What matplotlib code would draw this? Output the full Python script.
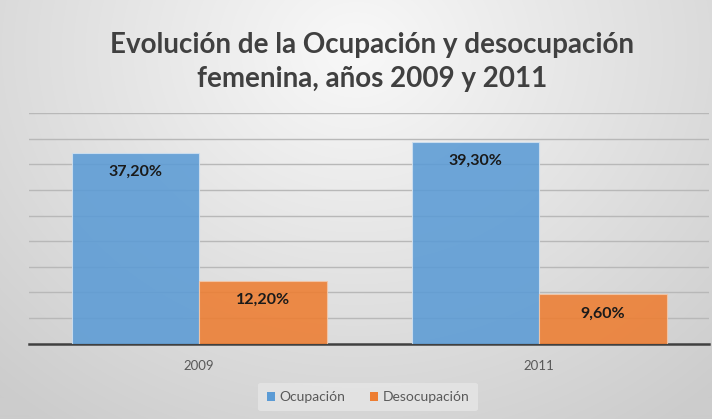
import numpy as np
import matplotlib
matplotlib.use("Agg")
import matplotlib.pyplot as plt
from matplotlib.patches import Patch

years = ["2009", "2011"]
ocupacion = [37.2, 39.3]
desocupacion = [12.2, 9.6]
series_names = ["Ocupación", "Desocupación"]
title = "Evolución de la Ocupación y desocupación\nfemenina, años 2009 y 2011"

plt.rcParams['font.family'] = ['Lato', 'DejaVu Sans']

W, H = 712, 419
fig = plt.figure(figsize=(W / 100, H / 100), dpi=100)

# radial gradient background
bg = fig.add_axes([0, 0, 1, 1], zorder=-10)
yy, xx = np.mgrid[0:H, 0:W]
cx, cy = W * 0.5, H * 0.12
r = np.sqrt(((xx - cx) / (W * 0.75)) ** 2 + ((yy - cy) / (H * 1.1)) ** 2)
r = np.clip(r, 0, 1)
c0 = np.array([0.975, 0.975, 0.975])
c1 = np.array([0.80, 0.80, 0.80])
img = c0[None, None, :] * (1 - r[..., None]) + c1[None, None, :] * r[..., None]
bg.imshow(img, aspect='auto', extent=[0, 1, 0, 1], origin='upper')
bg.axis('off')

ax = fig.add_axes([29 / W, 1 - 343.7 / H, 680 / W, (343.7 - 113) / H])
ax.set_facecolor('none')

x = np.arange(len(years))
bw = 0.375
blue = "#5B9BD5"
orange = "#ED7D31"
b1 = ax.bar(x - bw / 2, ocupacion, bw, color=blue, alpha=0.88,
            edgecolor="#cfe0f0", linewidth=0.8, zorder=3)
b2 = ax.bar(x + bw / 2, desocupacion, bw, color=orange, alpha=0.88,
            edgecolor="#f3c7a8", linewidth=0.8, zorder=3)

for bars, vals in ((b1, ocupacion), (b2, desocupacion)):
    for rect, v in zip(bars, vals):
        ax.annotate(f"{v:.2f}%".replace(".", ","),
                    xy=(rect.get_x() + rect.get_width() / 2, v),
                    xytext=(0, -19), textcoords='offset pixels',
                    ha='center', va='center', fontsize=11.5, fontweight='bold',
                    color='#1a1a1a', zorder=5)

ax.set_xlim(-0.5, 1.5)
ax.set_ylim(0, 45)
ax.set_yticks(np.arange(5, 46, 5))
ax.yaxis.grid(True, color='#b8b8b8', linewidth=1.0, zorder=0)
ax.tick_params(axis='y', left=False, labelleft=False)
ax.set_xticks(x)
ax.set_xticklabels(years, fontsize=9.5, color='#595959')
ax.tick_params(axis='x', length=0, pad=12)
for s in ['top', 'right', 'left']:
    ax.spines[s].set_visible(False)
ax.spines['bottom'].set_color('#404040')
ax.spines['bottom'].set_linewidth(1.8)
ax.set_axisbelow(True)

fig.text(372 / W, 1 - 62 / H, title, ha='center', va='center', fontsize=20,
         fontweight='bold', color='#404040', linespacing=1.42)

handles = [Patch(facecolor=blue), Patch(facecolor=orange)]
leg = fig.legend(handles, series_names, loc='center', bbox_to_anchor=(368 / W, 1 - 397 / H),
                 ncol=2, frameon=True, fontsize=10, handlelength=0.6, handleheight=0.6,
                 handletextpad=0.3, columnspacing=1.8, borderpad=0.6)
leg.get_frame().set_facecolor('#e6e6e6')
leg.get_frame().set_edgecolor('none')
leg.get_frame().set_alpha(0.8)
for t in leg.get_texts():
    t.set_color('#595959')

fig.savefig("out.png", dpi=100)
